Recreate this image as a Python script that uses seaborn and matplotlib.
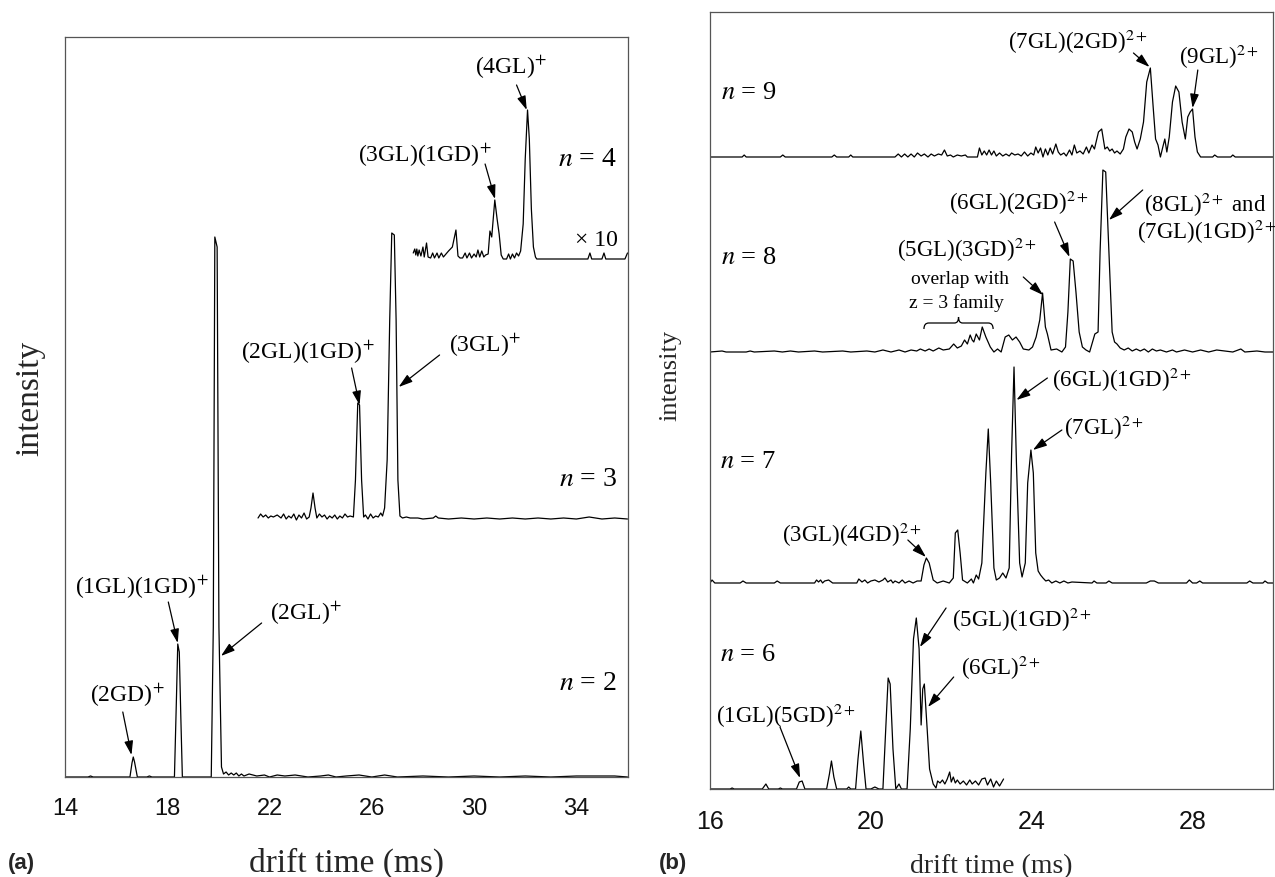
import matplotlib
matplotlib.use("Agg")
import matplotlib.pyplot as plt
import seaborn as sns
import pandas as pd
from matplotlib.path import Path
from matplotlib.patches import PathPatch

# ---------------- data (drift time ms, intensity arb.) ----------------
# panel (a)
a_n2 = [(14.0, 0), (14.9, 0), (15.0, 1), (15.1, 0), (16.54, 0), (16.62, 14), (16.67, 20), (16.72, 15),
        (16.83, 0), (17.2, 0), (17.3, 1), (17.4, 0), (18.28, 0), (18.36, 80), (18.41, 133), (18.47, 125),
        (18.53, 60), (18.59, 0), (19.72, 0), (19.80, 150), (19.86, 540), (19.95, 530), (20.02, 150),
        (20.12, 10), (20.2, 3), (20.3, 5), (20.4, 2), (20.5, 4), (20.6, 2), (20.7, 4), (20.8, 1), (20.9, 3),
        (21.0, 1), (21.2, 3), (21.5, 1), (21.8, 2), (22.0, 0), (22.3, 2), (22.6, 1), (23.0, 2), (23.5, 0),
        (24.0, 1), (24.3, 2), (24.6, 0), (25.0, 1), (25.5, 2), (26.0, 0), (26.5, 2), (27.0, 0), (28.0, 1),
        (29.0, 0), (30.0, 1), (31.0, 0), (32.0, 1), (33.0, 0), (34.0, 1), (35.5, 1), (36.0, 0)]
a_n3 = [(21.55, 2), (21.65, 6), (21.75, 3), (21.85, 5), (21.95, 2), (22.05, 4), (22.15, 3), (22.3, 5),
        (22.45, 2), (22.55, 6), (22.65, 1), (22.75, 4), (22.85, 2), (22.95, 6), (23.05, 0), (23.15, 5),
        (23.25, 2), (23.35, 7), (23.45, 1), (23.55, 3), (23.62, 12), (23.70, 27), (23.78, 12), (23.85, 2),
        (23.95, 6), (24.05, 3), (24.15, 5), (24.25, 1), (24.35, 4), (24.45, 2), (24.55, 5), (24.65, 1),
        (24.75, 4), (24.85, 2), (24.95, 6), (25.05, 3), (25.15, 4), (25.28, 3), (25.36, 40), (25.45, 117),
        (25.52, 115), (25.60, 40), (25.68, 3), (25.75, 5), (25.85, 1), (25.95, 6), (26.05, 2), (26.15, 4),
        (26.25, 3), (26.35, 7), (26.42, 4), (26.50, 12), (26.60, 60), (26.70, 200), (26.78, 287),
        (26.88, 285), (26.95, 200), (27.02, 40), (27.10, 4), (27.2, 2), (27.35, 3), (27.5, 2), (27.8, 2),
        (28.0, 1), (28.4, 2), (28.5, 4), (28.6, 2), (29.0, 1), (29.5, 2), (30.0, 1), (30.5, 2), (31.0, 1),
        (31.5, 2), (32.0, 1), (32.5, 2), (33.0, 1), (33.5, 2), (34.0, 1), (34.5, 3), (35.0, 1), (35.5, 2),
        (36.0, 1)]
a_n4_x10 = [(27.62, 6), (27.68, 10), (27.72, 4), (27.76, 10), (27.80, 3), (27.85, 9), (27.92, 3), (28.00, 12),
            (28.05, 2), (28.14, 16), (28.20, 2), (28.30, 1), (28.38, 6), (28.45, 1), (28.55, 6), (28.62, 1),
            (28.72, 6), (28.80, 2), (28.90, 5), (29.00, 8), (29.15, 12), (29.29, 29), (29.37, 3), (29.45, 1),
            (29.55, 1), (29.65, 6), (29.72, 1), (29.82, 6), (29.90, 1), (30.00, 5), (30.08, 2), (30.15, 9),
            (30.22, 2), (30.30, 8), (30.38, 2), (30.45, 4), (30.55, 5), (30.62, 28), (30.69, 22), (30.81, 59),
            (30.90, 40), (30.98, 25), (31.06, 4), (31.14, 0), (31.27, 0), (31.35, 5), (31.42, 0), (31.50, 5),
            (31.58, 1), (31.66, 6), (31.74, 3), (31.82, 8), (31.92, 35), (32.00, 100), (32.09, 149),
            (32.16, 120), (32.24, 50), (32.32, 12), (32.40, 2), (32.45, 0), (34.45, 0), (34.53, 6), (34.60, 0),
            (35.00, 0), (35.08, 6), (35.15, 0), (35.90, 0), (36.00, 6)]

# panel (b)
b_n6 = [(16.0, 0), (16.5, 0), (16.55, 1), (16.6, 0), (17.3, 0), (17.39, 5), (17.46, 0), (17.7, 0), (17.75, 1),
        (17.8, 0), (18.15, 0), (18.22, 7), (18.29, 8), (18.36, 0), (18.9, 0), (18.97, 15), (19.02, 28),
        (19.08, 12), (19.15, 0), (19.4, 0), (19.45, 2), (19.5, 0), (19.62, 0), (19.68, 30), (19.75, 58),
        (19.82, 25), (19.88, 0), (20.0, 0), (20.1, 2), (20.2, 0), (20.3, 0), (20.37, 60), (20.43, 111),
        (20.48, 105), (20.55, 40), (20.62, 0), (20.7, 5), (20.76, 0), (20.9, 0), (20.98, 60), (21.06, 150),
        (21.13, 171), (21.20, 140), (21.25, 64), (21.29, 100), (21.33, 105), (21.40, 60), (21.46, 20),
        (21.55, 5), (21.62, 1), (21.66, 8), (21.72, 6), (21.78, 9), (21.84, 5), (21.90, 10), (21.96, 17),
        (22.0, 7), (22.05, 12), (22.1, 6), (22.15, 9), (22.22, 5), (22.3, 8), (22.38, 4), (22.46, 9),
        (22.52, 5), (22.6, 8), (22.68, 4), (22.76, 10), (22.84, 11), (22.9, 4), (22.98, 10), (23.05, 2),
        (23.12, 8), (23.2, 3), (23.3, 10)]
b_n7 = [(16.0, 0), (16.05, 3), (16.12, 0), (16.75, 0), (16.82, 2), (16.9, 0), (17.6, 0), (17.67, 2), (17.75, 0),
        (18.6, 0), (18.65, 3), (18.7, 1), (18.75, 3), (18.8, 0), (18.85, 2), (18.95, 3), (19.05, 0), (19.65, 0),
        (19.7, 4), (19.78, 1), (19.85, 3), (19.92, 0), (20.0, 2), (20.1, 3), (20.2, 1), (20.3, 3), (20.35, 5),
        (20.42, 1), (20.5, 3), (20.55, 0), (20.6, 2), (20.7, 0), (20.78, 3), (20.85, 0), (20.95, 2), (21.05, 0),
        (21.15, 2), (21.25, 2), (21.32, 18), (21.38, 25), (21.45, 20), (21.55, 3), (21.65, 0), (21.8, 2),
        (21.95, 0), (22.05, 5), (22.1, 50), (22.16, 53), (22.22, 30), (22.28, 3), (22.4, 0), (22.5, 4),
        (22.55, 0), (22.62, 8), (22.68, 4), (22.76, 20), (22.86, 110), (22.92, 154), (22.98, 100), (23.06, 15),
        (23.12, 3), (23.2, 5), (23.28, 10), (23.36, 5), (23.44, 15), (23.50, 130), (23.56, 216), (23.62, 120),
        (23.70, 20), (23.76, 6), (23.84, 20), (23.90, 100), (23.98, 133), (24.04, 110), (24.10, 30),
        (24.16, 12), (24.22, 8), (24.28, 5), (24.35, 2), (24.42, 3), (24.5, 0), (24.6, 2), (24.7, 0), (24.8, 2),
        (24.9, 0), (25.0, 1), (25.5, 0), (25.55, 2), (25.62, 0), (25.85, 0), (25.92, 2), (26.0, 0), (26.85, 0),
        (26.95, 2), (27.05, 2), (27.15, 0), (27.85, 0), (27.92, 3), (28.0, 0), (28.1, 0), (28.18, 2),
        (28.25, 0), (29.35, 0), (29.42, 2), (29.5, 0), (29.75, 0), (29.8, 2), (29.87, 0), (30.0, 0)]
b_n8 = [(16.0, 0), (16.3, 1), (16.4, 0), (16.9, 0), (17.0, 1), (17.1, 0), (17.6, 1), (17.8, 0), (18.0, 1),
        (18.2, 0), (18.6, 1), (18.8, 0), (19.3, 1), (19.5, 0), (19.9, 1), (20.1, 0), (20.3, 2), (20.5, 0),
        (20.7, 2), (20.85, 0), (21.0, 2), (21.14, 1), (21.23, 3), (21.35, 1), (21.45, 3), (21.55, 1),
        (21.69, 4), (21.8, 2), (21.95, 3), (22.06, 8), (22.15, 4), (22.25, 6), (22.33, 12), (22.40, 8),
        (22.47, 17), (22.52, 12), (22.56, 10), (22.62, 18), (22.70, 12), (22.77, 25), (22.86, 15),
        (22.97, 5), (23.06, 0), (23.15, 3), (23.24, 0), (23.34, 15), (23.43, 17), (23.52, 12), (23.61, 15),
        (23.70, 10), (23.79, 3), (23.93, 2), (24.02, 5), (24.11, 15), (24.20, 32), (24.27, 59), (24.34, 25),
        (24.39, 18), (24.48, 2), (24.62, 3), (24.75, 0), (24.84, 5), (24.90, 40), (24.96, 93), (25.03, 91),
        (25.10, 60), (25.18, 20), (25.26, 5), (25.35, 2), (25.44, 0), (25.57, 18), (25.65, 20), (25.70, 100),
        (25.77, 182), (25.84, 180), (25.92, 100), (26.0, 20), (26.06, 10), (26.12, 8), (26.2, 4), (26.3, 2),
        (26.4, 4), (26.5, 1), (26.6, 3), (26.7, 1), (26.8, 3), (26.9, 0), (27.0, 3), (27.1, 1), (27.2, 2),
        (27.35, 0), (27.5, 2), (27.6, 0), (27.8, 2), (28.0, 0), (28.2, 2), (28.4, 0), (28.6, 2), (28.8, 1),
        (29.0, 0), (29.2, 3), (29.3, 0), (29.6, 1), (29.8, 0), (30.0, 0)]
b_n9 = [(16.0, 0), (16.8, 0), (16.85, 2), (16.9, 0), (17.75, 0), (17.81, 2), (17.87, 0), (19.03, 0), (19.09, 2),
        (19.15, 0), (19.45, 0), (19.50, 2), (19.55, 0), (20.6, 0), (20.68, 3), (20.76, 0), (20.84, 3),
        (20.92, 0), (21.0, 3), (21.08, 0), (21.16, 4), (21.25, 1), (21.33, 3), (21.42, 0), (21.5, 3),
        (21.58, 1), (21.68, 3), (21.76, 2), (21.83, 7), (21.9, 1), (21.98, 2), (22.05, 0), (22.15, 2),
        (22.25, 1), (22.35, 2), (22.4, 0), (22.65, 0), (22.70, 9), (22.76, 2), (22.82, 6), (22.88, 2),
        (22.94, 7), (23.0, 2), (23.06, 6), (23.12, 1), (23.2, 4), (23.28, 1), (23.36, 3), (23.44, 1), (23.5, 4),
        (23.58, 2), (23.66, 3), (23.74, 1), (23.82, 5), (23.9, 1), (23.98, 4), (24.05, 2), (24.1, 10),
        (24.16, 4), (24.22, 9), (24.28, 0), (24.34, 8), (24.40, 2), (24.46, 9), (24.52, 3), (24.6, 13),
        (24.66, 5), (24.72, 2), (24.8, 4), (24.86, 1), (24.94, 7), (25.0, 2), (25.06, 12), (25.12, 4),
        (25.2, 6), (25.28, 3), (25.36, 10), (25.42, 4), (25.5, 12), (25.56, 8), (25.66, 25), (25.74, 28),
        (25.82, 8), (25.88, 10), (25.94, 6), (26.0, 8), (26.06, 4), (26.12, 6), (26.2, 3), (26.28, 8),
        (26.34, 20), (26.42, 28), (26.50, 25), (26.56, 15), (26.62, 8), (26.70, 18), (26.78, 35), (26.86, 75),
        (26.95, 89), (27.02, 50), (27.08, 18), (27.14, 12), (27.20, 0), (27.26, 10), (27.31, 18), (27.36, 5),
        (27.42, 20), (27.50, 55), (27.58, 71), (27.66, 65), (27.74, 35), (27.82, 18), (27.88, 40), (27.94, 45),
        (28.00, 48), (28.06, 20), (28.12, 5), (28.2, 0), (28.5, 0), (28.55, 2), (28.62, 0), (28.95, 0),
        (29.0, 2), (29.06, 0), (30.0, 0)]

a_traces = {"n=2": a_n2, "n=3": a_n3, "n=4": a_n4_x10}
b_traces = {"n=6": b_n6, "n=7": b_n7, "n=8": b_n8, "n=9": b_n9}
a_xticks = [14, 18, 22, 26, 30, 34]
b_xticks = [16, 20, 24, 28]

# vertical stacking offsets (layout, not data)
a_offset = {"n=2": 0, "n=3": 257, "n=4": 518}
b_offset = {"n=6": 0, "n=7": 206, "n=8": 437, "n=9": 632}


def to_frame(traces, offsets):
    rows = []
    for name, pts in traces.items():
        for t, v in pts:
            rows.append({"trace": name, "t": t, "y": v + offsets[name]})
    return pd.DataFrame(rows)


sns.set_theme(style="white")
plt.rcParams["font.family"] = ["Liberation Serif", "DejaVu Serif"]
plt.rcParams["mathtext.fontset"] = "stix"

W, H = 1275, 877
fig = plt.figure(figsize=(W / 100, H / 100), dpi=100)
axa = fig.add_axes([65 / W, (H - 777) / H, 562.5 / W, 740 / H])
axb = fig.add_axes([710 / W, (H - 789) / H, 563 / W, 777 / H])

for ax, traces, offs, xl, yl, xt in [(axa, a_traces, a_offset, (14, 36), (0, 740), a_xticks),
                                     (axb, b_traces, b_offset, (16, 30), (0, 777), b_xticks)]:
    df = to_frame(traces, offs)
    sns.lineplot(data=df, x="t", y="y", units="trace", estimator=None, sort=False,
                 color="black", lw=0.9, ax=ax, legend=False)
    ax.set_xlim(*xl)
    ax.set_ylim(*yl)
    ax.set_xticks(xt)
    ax.set_yticks([])
    for s in ax.spines.values():
        s.set_visible(True)
        s.set_color("#555555")
        s.set_linewidth(0.9)
    ax.set_xlabel("")
    ax.set_ylabel("")

sans = ["Liberation Sans Narrow", "Liberation Sans"]
axa.tick_params(axis="x", direction="out", length=8, width=0.9, color="#555555", pad=7, labelsize=17)
axb.tick_params(axis="x", direction="out", length=7, width=0.9, color="#555555", pad=8, labelsize=18)
for ax in (axa, axb):
    for lab in ax.get_xticklabels():
        lab.set_family(sans)
        lab.set_color("#111111")

# axis labels
axa.set_xlabel("drift time (ms)", fontsize=24, va="center")
axa.xaxis.set_label_coords(0.5, -(863 - 777) / 740)
axa.set_ylabel("intensity", fontsize=24, va="center")
axa.yaxis.set_label_coords((30 - 65) / 562.5, (777 - 398) / 740)
axb.set_xlabel("drift time (ms)", fontsize=20, va="center")
axb.xaxis.set_label_coords(0.5, -(867 - 789) / 777)
axb.set_ylabel("intensity", fontsize=19, va="center")
axb.yaxis.set_label_coords((670 - 710) / 563, (789 - 375) / 777)

fig.text(8 / W, 1 - 863 / H, "(a)", fontsize=16, fontweight="bold", family="Liberation Sans", va="center")
fig.text(659 / W, 1 - 863 / H, "(b)", fontsize=16, fontweight="bold", family="Liberation Sans", va="center")

ARW = dict(arrowstyle="-|>,head_length=0.7,head_width=0.22", color="black", lw=0.9,
           shrinkA=0, shrinkB=0, mutation_scale=12)


def lab(ax, x, y, s, size, ha="center", arrow=None):
    ax.text(x, y, s, fontsize=size, ha=ha, va="center", color="black")
    if arrow is not None:
        (tx, ty), (hx, hy) = arrow
        ax.annotate("", xy=(hx, hy), xytext=(tx, ty), arrowprops=ARW)


# panel (a) annotations
fa = 17
lab(axa, 31.44, 710, "(4GL)$^{+}$", fa, arrow=((31.66, 692), (32.06, 667)))
lab(axa, 28.08, 622, "(3GL)(1GD)$^{+}$", fa, arrow=((30.43, 613), (30.82, 578)))
lab(axa, 34.45, 617, "$n$ = 4", 20)
lab(axa, 34.8, 536, "× 10", 17)
lab(axa, 30.43, 432, "(3GL)$^{+}$", fa, arrow=((28.65, 422), (27.05, 390)))
lab(axa, 23.50, 425, "(2GL)(1GD)$^{+}$", fa, arrow=((25.21, 409), (25.52, 372)))
lab(axa, 34.45, 297, "$n$ = 3", 20)
lab(axa, 34.45, 93, "$n$ = 2", 20)
lab(axa, 17.0, 190, "(1GL)(1GD)$^{+}$", fa, arrow=((18.04, 175), (18.41, 134)))
lab(axa, 23.43, 164, "(2GL)$^{+}$", fa, arrow=((21.69, 154), (20.10, 121)))
lab(axa, 16.44, 82, "(2GD)$^{+}$", fa, arrow=((16.26, 65), (16.60, 22)))

# panel (b) annotations
fb = 16.5
lab(axb, 16.27, 696, "$n$ = 9", 19, ha="left")
lab(axb, 25.15, 747, "(7GL)(2GD)$^{2+}$", fb, arrow=((26.53, 736), (26.93, 722)))
lab(axb, 28.66, 732, "(9GL)$^{2+}$", fb, arrow=((28.13, 719), (28.0, 681)))
lab(axb, 16.27, 531, "$n$ = 8", 19, ha="left")
lab(axb, 23.69, 586, "(6GL)(2GD)$^{2+}$", fb, arrow=((24.57, 567), (24.94, 532)))
lab(axb, 26.80, 584, "(8GL)$^{2+}$ and", fb, ha="left")
lab(axb, 26.62, 557, "(7GL)(1GD)$^{2+}$", fb, ha="left", arrow=((26.76, 599), (25.92, 569)))
lab(axb, 22.38, 539, "(5GL)(3GD)$^{2+}$", fb, arrow=((23.79, 512), (24.28, 494)))
lab(axb, 22.21, 510, "overlap with", 14)
lab(axb, 22.14, 486, "z = 3 family", 14)
lab(axb, 16.25, 327, "$n$ = 7", 19, ha="left")
lab(axb, 24.51, 409, "(6GL)(1GD)$^{2+}$", fb, ha="left", arrow=((24.39, 411), (23.62, 389)))
lab(axb, 24.81, 361, "(7GL)$^{2+}$", fb, ha="left", arrow=((24.75, 359), (24.03, 339)))
lab(axb, 19.52, 254, "(3GL)(4GD)$^{2+}$", fb, arrow=((20.92, 249), (21.37, 232)))
lab(axb, 16.25, 134, "$n$ = 6", 19, ha="left")
lab(axb, 22.02, 169, "(5GL)(1GD)$^{2+}$", fb, ha="left", arrow=((21.87, 181), (21.22, 142)))
lab(axb, 22.23, 121, "(6GL)$^{2+}$", fb, ha="left", arrow=((22.06, 112), (21.42, 82)))
lab(axb, 17.89, 73, "(1GL)(5GD)$^{2+}$", fb, arrow=((17.74, 62), (18.24, 11)))

# curly brace under "overlap with z = 3 family"
x0, x1, yb = 21.32, 23.04, 466
xm = 0.5 * (x0 + x1)
verts = [(x0, yb - 6), (x0, yb), (x0 + 0.12, yb), (xm - 0.1, yb), (xm, yb), (xm, yb + 6),
         (xm, yb), (xm + 0.1, yb), (x1 - 0.12, yb), (x1, yb), (x1, yb - 6)]
codes = [Path.MOVETO, Path.CURVE3, Path.CURVE3, Path.LINETO, Path.CURVE3, Path.CURVE3,
         Path.CURVE3, Path.CURVE3, Path.LINETO, Path.CURVE3, Path.CURVE3]
axb.add_patch(PathPatch(Path(verts, codes), fill=False, lw=0.9, color="black"))

fig.savefig("out.png", dpi=100)
